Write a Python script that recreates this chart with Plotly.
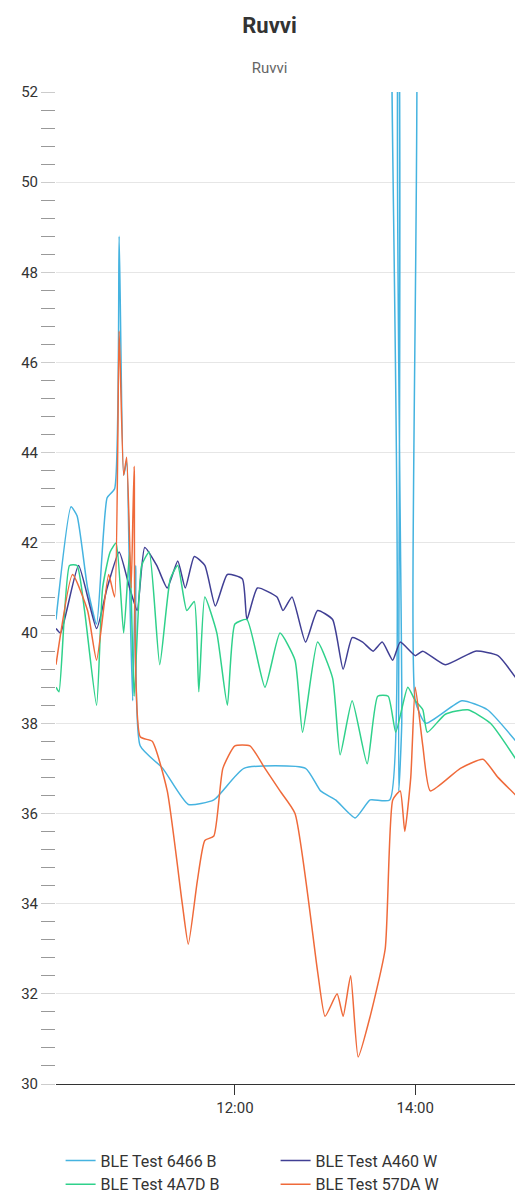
import plotly.graph_objects as go
import pandas as pd

dia = "2024-01-01 "

t_6466 = ["10:01","10:11","10:15","10:22","10:28","10:35","10:40","10:43","10:46","10:48","10:50","10:52","10:54","10:57","11:12","11:29","11:46","12:06","12:47","12:57","13:07","13:20","13:30","13:43","13:45","13:47","13:49","13:51","13:52","13:58","14:00","14:07","14:31","14:48","15:07"]
v_6466 = [40.3,42.8,42.6,41.0,40.2,43.0,43.2,48.8,43.5,43.8,41.0,38.5,41.5,37.5,37.0,36.2,36.3,37.0,37.0,36.5,36.3,35.9,36.3,36.3,56,56,36.5,38.0,56,56,38.5,38.0,38.5,38.3,37.6]

t_a460 = ["10:01","10:04","10:16","10:28","10:35","10:43","10:50","10:55","11:00","11:08","11:15","11:22","11:27","11:33","11:40","11:47","11:55","12:05","12:08","12:15","12:28","12:32","12:38","12:47","12:55","13:05","13:12","13:18","13:25","13:32","13:38","13:45","13:50","14:00","14:05","14:20","14:40","14:55","15:07"]
v_a460 = [40.1,40.0,41.5,40.1,41.0,41.8,41.0,40.5,41.9,41.5,41.0,41.6,41.0,41.7,41.5,40.6,41.3,41.2,40.3,41.0,40.8,40.5,40.8,39.8,40.5,40.3,39.2,39.9,39.8,39.6,39.8,39.4,39.8,39.5,39.6,39.3,39.6,39.5,39.0]

t_4a7d = ["10:01","10:03","10:10","10:15","10:20","10:28","10:32","10:37","10:41","10:46","10:50","10:53","10:58","11:03","11:10","11:17","11:22","11:28","11:33","11:36","11:40","11:48","11:55","12:00","12:08","12:20","12:30","12:40","12:45","12:55","13:05","13:10","13:18","13:28","13:35","13:42","13:47","13:55","14:00","14:05","14:08","14:20","14:35","14:50","15:07"]
v_4a7d = [38.8,38.7,41.5,41.5,40.5,38.4,41.0,41.8,42.0,40.0,41.8,38.6,41.5,41.8,39.3,41.2,41.5,40.5,40.7,38.7,40.8,40.0,38.4,40.2,40.3,38.8,40.0,39.4,37.8,39.8,39.0,37.3,38.5,37.1,38.6,38.6,37.8,38.8,38.5,38.3,37.8,38.2,38.3,38.0,37.2]

t_57da = ["10:01","10:12","10:22","10:28","10:36","10:40","10:43","10:46","10:48","10:51","10:53","10:57","11:05","11:15","11:25","11:29","11:35","11:40","11:46","11:52","12:00","12:10","12:20","12:30","12:40","12:55","13:00","13:08","13:12","13:17","13:22","13:30","13:40","13:45","13:50","13:53","13:57","14:00","14:05","14:10","14:30","14:45","14:55","15:07"]
v_57da = [39.3,41.3,40.5,39.4,41.3,40.8,46.7,43.5,43.9,41.0,43.7,37.7,37.6,36.5,34.0,33.1,34.5,35.4,35.5,37.0,37.5,37.5,37.0,36.5,36.0,32.5,31.5,32.0,31.5,32.4,30.6,31.5,33.0,36.3,36.5,35.6,36.8,38.8,37.5,36.5,37.0,37.2,36.8,36.4]

series = [
    ("BLE Test 6466 B", t_6466, v_6466, "#45b3e0"),
    ("BLE Test A460 W", t_a460, v_a460, "#403f94"),
    ("BLE Test 4A7D B", t_4a7d, v_4a7d, "#2fd18b"),
    ("BLE Test 57DA W", t_57da, v_57da, "#ef6a3a"),
]

fig = go.Figure()
for nome, t, v, cor in series:
    fig.add_trace(go.Scatter(x=pd.to_datetime([dia + s for s in t]), y=v, name=nome, mode="lines",
                             line=dict(color=cor, width=1.5, shape="spline", smoothing=0.5)))

fig.update_layout(
    width=523, height=1202, template="plotly_white",
    font=dict(family="Roboto, sans-serif", color="#666"),
    title=dict(text="<b>Ruvvi</b>", x=0.5, xanchor="center", y=0.992, yanchor="top",
               font=dict(size=22, color="#333"),
               subtitle=dict(text="Ruvvi", font=dict(size=15, color="#666"))),
    margin=dict(l=48, r=15, t=84, b=126, autoexpand=False),
    legend=dict(orientation="h", x=0.01, xanchor="left", y=-0.06, yanchor="top",
                entrywidth=170, font=dict(size=16, color="#333"), tracegroupgap=0),
    showlegend=True,
)
fig.update_xaxes(range=[pd.Timestamp(dia + "10:01"), pd.Timestamp(dia + "15:07")],
                 tickformat="%H:%M", dtick=2*3600*1000, tick0=pd.Timestamp(dia + "12:00"),
                 showgrid=False, showline=True, linecolor="#333", ticks="outside", ticklen=10,
                 tickcolor="#333", tickfont=dict(size=15, color="#333"))
fig.update_yaxes(range=[30, 52], dtick=2, showgrid=True, gridcolor="#e6e6e6",
                 ticks="outside", ticklen=14, tickcolor="#ccc", tickfont=dict(size=15, color="#333"),
                 minor=dict(dtick=0.4, ticks="outside", ticklen=14, tickcolor="#999", showgrid=False),
                 zeroline=False)
fig.write_html("out.html")
